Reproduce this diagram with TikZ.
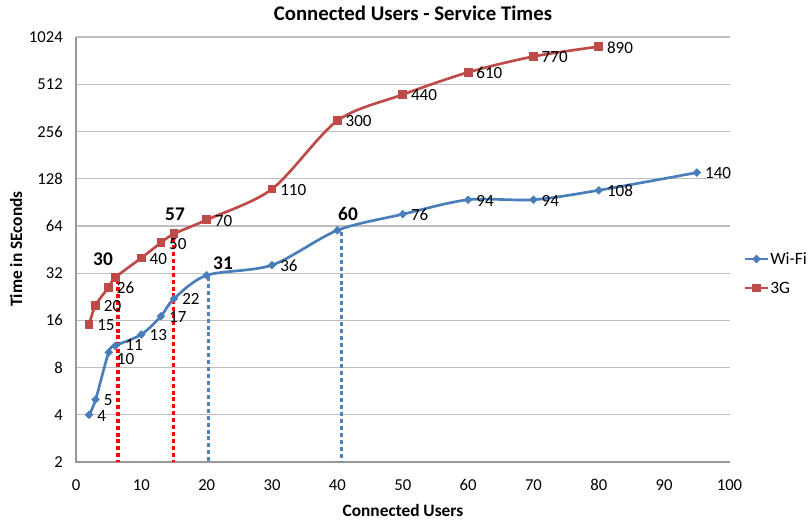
\documentclass[tikz,border=0pt]{standalone}
\usepackage{fontspec}
\setmainfont{Carlito}
\usetikzlibrary{shapes.geometric,calc}

\definecolor{wifiblue}{HTML}{4A7EBB}
\definecolor{tgred}{HTML}{BE4B48}
\definecolor{gridgray}{HTML}{BEBEBE}
\definecolor{dotred}{HTML}{FF0000}
\definecolor{dotblue}{HTML}{4F81BD}

\tikzset{
  grid line/.style={draw=gridgray, line width=0.9pt},
  axis line/.style={draw=gridgray!80!black, line width=0.9pt},
  wifi line/.style={draw=wifiblue, line width=2pt, line join=round, line cap=round},
  tg line/.style={draw=tgred, line width=2pt, line join=round, line cap=round},
  wmark/.style={diamond, fill=wifiblue, inner sep=0pt, minimum size=6.6pt},
  gmark/.style={rectangle, fill=tgred, inner sep=0pt, minimum size=6.6pt},
  datalabel/.style={anchor=west, inner sep=0pt, xshift=6pt, yshift=-0.6pt, font=\fontsize{12.8}{14}\selectfont},
  biglabel/.style={inner sep=0pt, font=\fontsize{14.5}{16}\selectfont\bfseries},
  ticklabel/.style={inner sep=0pt, font=\fontsize{12.5}{14}\selectfont},
  axistitle/.style={inner sep=0pt, font=\fontsize{13}{15}\selectfont\bfseries},
  reddots/.style={draw=dotred, line width=2.4pt, dash pattern=on 3pt off 2.2pt},
  bluedots/.style={draw=dotblue, line width=2.4pt, dash pattern=on 3pt off 2.2pt},
}

\begin{document}
\begin{tikzpicture}[x=0.75pt, y=-0.75pt,
  declare function={px(\u)=76+6.535*\u; py(\v)=462-68.12*ln(\v/2);}]
  \useasboundingbox[fill=white] (0,0) rectangle (811,520);

  % title
  \node[inner sep=0pt, font=\fontsize{15.6}{18}\selectfont\bfseries] (title) at (413,13) {Connected Users - Service Times};

  % horizontal grid lines and y tick labels (log2 scale)
  \foreach \v [count=\k] in {2,4,8,16,32,64,128,256,512,1024} {
    \draw[grid line] ({px(0)},{py(\v)}) -- ({px(100)},{py(\v)});
    \node[ticklabel, anchor=east] (yt\k) at (63,{py(\v)}) {\v};
  }
  % axes
  \coordinate (origin) at ({px(0)},{py(2)});
  \coordinate (ytop) at ({px(0)},{py(1024)});
  \coordinate (xend) at ({px(100)},{py(2)});
  \draw[axis line] (ytop) -- (origin) -- (xend);

  % x tick labels
  \foreach \u [count=\k] in {0,10,...,100} {
    \node[ticklabel] (xt\k) at ({px(\u)},485) {\u};
  }

  % axis titles
  \node[axistitle] (xtitle) at (403,510) {Connected Users};
  \node[axistitle, rotate=90] (ytitle) at (16,249) {Time in SEconds};

  % dotted drop lines
  \coordinate (r1) at (118,280);
  \coordinate (r2) at (173.5,238);
  \coordinate (b1) at (208.5,277);
  \coordinate (b2) at (341.5,232);
  \draw[reddots] (r1) -- (r1 |- origin);
  \draw[reddots] (r2) -- (r2 |- origin);
  \draw[bluedots] (b1) -- (b1 |- origin);
  \draw[bluedots] (b2) -- (b2 |- origin);

  % Wi-Fi data
  \foreach \i/\xv/\yv in {1/2/4,2/3/5,3/5/10,4/6/11,5/10/13,6/13/17,7/15/22,8/20/31,
      9/30/36,10/40/60,11/50/76,12/60/94,13/70/94,14/80/108,15/95/140} {
    \coordinate (w\i) at ({px(\xv)},{py(\yv)});
  }
  % 3G data
  \foreach \i/\xv/\yv in {1/2/15,2/3/20,3/5/26,4/6/30,5/10/40,6/13/50,7/15/57,8/20/70,
      9/30/110,10/40/300,11/50/440,12/60/610,13/70/770,14/80/890} {
    \coordinate (g\i) at ({px(\xv)},{py(\yv)});
  }

  \draw[tg line] plot[smooth, tension=0.5] coordinates
    {(g1) (g2) (g3) (g4) (g5) (g6) (g7) (g8) (g9) (g10) (g11) (g12) (g13) (g14)};
  \draw[wifi line] plot[smooth, tension=0.5] coordinates
    {(w1) (w2) (w3) (w4) (w5) (w6) (w7) (w8) (w9) (w10) (w11) (w12) (w13) (w14) (w15)};

  \foreach \i in {1,...,14} { \node[gmark] (gm\i) at (g\i) {}; }
  \foreach \i in {1,...,15} { \node[wmark] (wm\i) at (w\i) {}; }

  % data labels
  \foreach \i/\t in {1/15,2/20,3/26,5/40,6/50,8/70,9/110,10/300,11/440,12/610,13/770,14/890} {
    \node[datalabel] (gl\i) at (g\i) {\t};
  }
  \foreach \i/\t in {1/4,2/5,5/13,6/17,7/22,9/36,11/76,12/94,13/94,14/108,15/140} {
    \node[datalabel] (wl\i) at (w\i) {\t};
  }
  % the two crowded labels at x = 5 and x = 6
  \node[datalabel, yshift=-4.2pt] (wl3) at (w3) {10};
  \node[datalabel, xshift=1.5pt, yshift=1.6pt] (wl4) at (w4) {11};

  \node[biglabel] (gb4) at (103,259) {30};
  \node[biglabel] (gb7) at (175,214) {57};
  \node[biglabel] (wb8) at (223,263) {31};
  \node[biglabel] (wb10) at (348,214) {60};

  % legend
  \coordinate (lw1) at (745,259);
  \coordinate (lw2) at (768,259);
  \coordinate (lg1) at (745,288);
  \coordinate (lg2) at (768,288);
  \draw[wifi line, line cap=butt] (lw1) -- (lw2);
  \node[wmark] (lwm) at ($(lw1)!0.5!(lw2)$) {};
  \node[ticklabel, anchor=west, font=\fontsize{13}{15}\selectfont] (lwt) at (770,259) {Wi-Fi};
  \draw[tg line, line cap=butt] (lg1) -- (lg2);
  \node[gmark] (lgm) at ($(lg1)!0.5!(lg2)$) {};
  \node[ticklabel, anchor=west, font=\fontsize{13}{15}\selectfont] (lgt) at (770,288) {3G};
\end{tikzpicture}
\end{document}
